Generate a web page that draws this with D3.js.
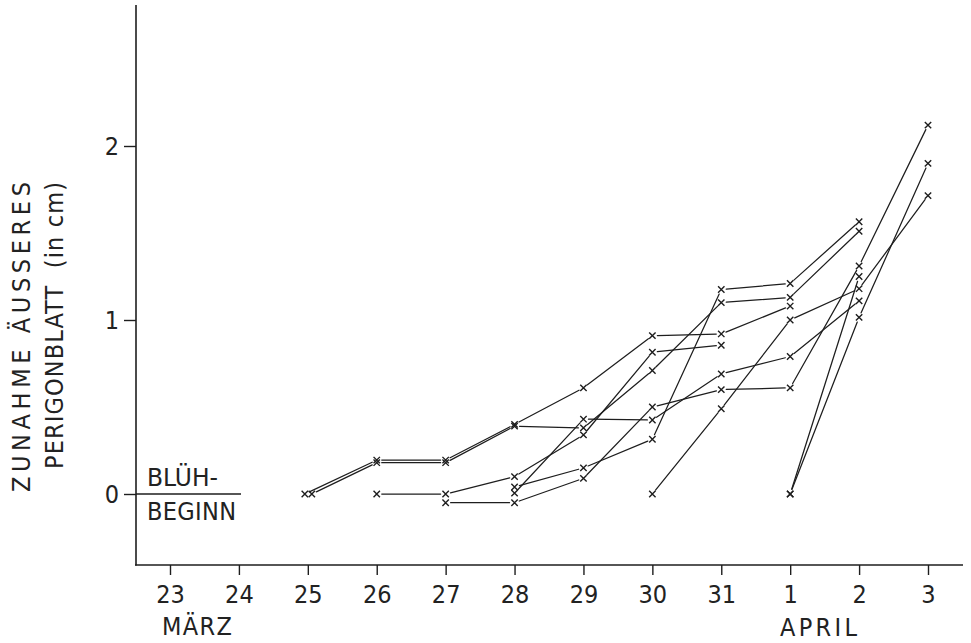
<!DOCTYPE html>
<html><head><meta charset="utf-8">
<script src="https://cdn.jsdelivr.net/npm/d3@7"></script>
<style>
html,body{margin:0;padding:0;background:#fff;}
svg{display:block;}
text{font-family:"Liberation Sans Narrow","DejaVu Sans Condensed","Liberation Sans",sans-serif;fill:#222;}
</style></head><body>
<svg id="chart" width="971" height="643"></svg>
<script>
// ---- data ----
const dayLabels = ["23","24","25","26","27","28","29","30","31","1","2","3"];
const monthLabels = ["MÄRZ","APRIL"];
const yTicks = [0,1,2];
// growth values (cm) per day, aligned with dayLabels; null = no measurement
const seriesA = [null,null,0,0.195,0.195,0.40,0.61,0.91,0.92,1.08,null,null];
const seriesB = [null,null,0,0.18,0.18,0.39,0.38,0.71,1.10,1.13,1.51,null];
const seriesC = [null,null,null,0,0,0.10,0.34,0.815,0.855,null,null,null];
const seriesD = [null,null,null,null,-0.05,-0.05,0.09,0.50,0.60,0.61,1.31,2.12];
const seriesE = [null,null,null,null,null,0.04,0.15,0.315,1.175,1.21,1.565,null];
const seriesF = [null,null,null,null,null,0.005,0.43,0.425,0.69,0.79,1.11,null];
const seriesG = [null,null,null,null,null,null,null,0,0.49,1.0,1.18,1.715];
const seriesH = [null,null,null,null,null,null,null,null,null,0,1.25,null];
const seriesI = [null,null,null,null,null,null,null,null,null,0,1.015,1.90];
const allSeries = [seriesA,seriesB,seriesC,seriesD,seriesE,seriesF,seriesG,seriesH,seriesI];

// ---- layout ----
const ink = "#1e1e1e";
const svg = d3.select("#chart");
const x = d3.scaleLinear().domain([0, 11]).range([170, 928]);
const y = d3.scaleLinear().domain([0, 2]).range([494, 146]);
const axisX0 = 136, axisY0 = 565;

// frame axes
svg.append("line").attr("x1",axisX0).attr("x2",axisX0).attr("y1",5).attr("y2",axisY0+0.5)
  .attr("stroke",ink).attr("stroke-width",1.6);
svg.append("line").attr("x1",axisX0-1).attr("x2",963).attr("y1",axisY0).attr("y2",axisY0)
  .attr("stroke",ink).attr("stroke-width",1.6);

// x axis ticks
const gx = svg.append("g").attr("transform",`translate(0,${axisY0})`)
  .call(d3.axisBottom(x).tickValues(d3.range(dayLabels.length)).tickFormat(i=>dayLabels[i]).tickSize(10).tickPadding(0));
gx.select(".domain").remove();
gx.selectAll(".tick line").attr("stroke",ink).attr("stroke-width",1.4);
gx.selectAll(".tick text").attr("y",38).attr("dy",null).style("font-size","25px").attr("fill","#222");

// y axis ticks
const gy = svg.append("g").attr("transform",`translate(${axisX0},0)`)
  .call(d3.axisLeft(y).tickValues(yTicks).tickFormat(d3.format("d")).tickSize(12).tickPadding(5));
gy.select(".domain").remove();
gy.selectAll(".tick line").attr("stroke",ink).attr("stroke-width",1.4);
gy.selectAll(".tick text").style("font-size","25px").attr("fill","#222").attr("dy","0.33em");

// Blühbeginn baseline
svg.append("line").attr("x1",axisX0).attr("x2",241).attr("y1",y(0)).attr("y2",y(0))
  .attr("stroke",ink).attr("stroke-width",1.5);
svg.append("text").attr("x",147).attr("y",486).attr("textLength",71).attr("lengthAdjust","spacingAndGlyphs")
  .style("font-size","25px").text("BLÜH-");
svg.append("text").attr("x",147).attr("y",520).attr("textLength",89).attr("lengthAdjust","spacing")
  .style("font-size","25px").text("BEGINN");

// month labels
svg.append("text").attr("x",162).attr("y",635).attr("textLength",70).attr("lengthAdjust","spacing")
  .style("font-size","25px").text(monthLabels[0]);
svg.append("text").attr("x",780).attr("y",636).attr("textLength",77).attr("lengthAdjust","spacing")
  .style("font-size","25px").text(monthLabels[1]);

// y title (two rotated lines)
svg.append("text").attr("transform","translate(30,492) rotate(-90)")
  .attr("textLength",310).attr("lengthAdjust","spacing")
  .style("font-size","25px").text("ZUNAHME ÄUSSERES");
svg.append("text").attr("transform","translate(63,469) rotate(-90)")
  .attr("textLength",287).attr("lengthAdjust","spacing")
  .style("font-size","25px").style("white-space","pre").text("PERIGONBLATT  (in cm)");

// ---- series ----
const gap = 5, mk = 3.2;
const gLines = svg.append("g").attr("stroke",ink).attr("stroke-width",1.25).attr("fill","none").attr("stroke-linecap","round");
const gMarks = svg.append("g").attr("stroke",ink).attr("stroke-width",1.4).attr("fill","none");
allSeries.forEach((s, si) => {
  // small horizontal nudge separating the two series that begin on the same day
  const nudge = si === 0 ? -3 : (si === 1 ? 4 : 0);
  const pts = [];
  s.forEach((v, i) => { if (v !== null) pts.push([x(i) + (pts.length === 0 ? nudge : 0), y(v)]); });
  for (let k = 0; k < pts.length - 1; k++) {
    const [x1,y1] = pts[k], [x2,y2] = pts[k+1];
    const len = Math.hypot(x2-x1, y2-y1), ux = (x2-x1)/len, uy = (y2-y1)/len;
    gLines.append("line")
      .attr("x1", x1 + ux*gap).attr("y1", y1 + uy*gap)
      .attr("x2", x2 - ux*gap).attr("y2", y2 - uy*gap);
  }
  pts.forEach(([px,py]) => {
    gMarks.append("path").attr("d", `M${px-mk},${py-mk}L${px+mk},${py+mk}M${px-mk},${py+mk}L${px+mk},${py-mk}`);
  });
});
</script>
</body></html>
